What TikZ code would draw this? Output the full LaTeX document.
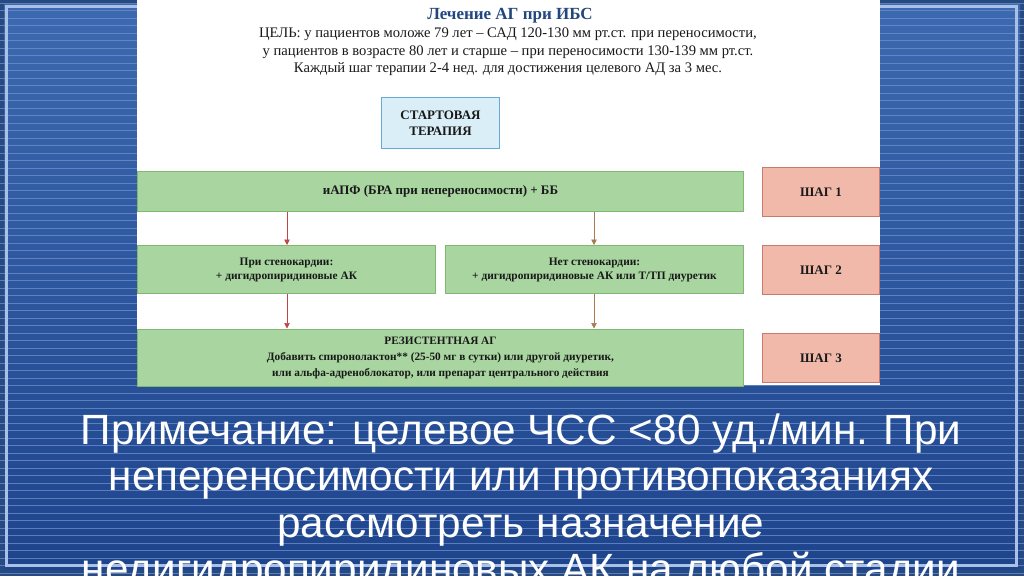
\documentclass[tikz,border=0pt]{standalone}
\usepackage{fontspec}
\setmainfont{Liberation Serif}
\newfontfamily\notefont{Liberation Sans}
\usetikzlibrary{arrows.meta}
\definecolor{bgouter}{RGB}{40,74,130}
\definecolor{bgtop}{RGB}{60,105,175}
\definecolor{bgbot}{RGB}{30,68,140}
\definecolor{bgline}{RGB}{110,145,205}
\definecolor{framecol}{RGB}{170,192,228}
\definecolor{titleblue}{RGB}{35,70,125}
\definecolor{greenfill}{RGB}{168,213,160}
\definecolor{greenedge}{RGB}{128,184,112}
\definecolor{stepfill}{RGB}{240,185,170}
\definecolor{stepedge}{RGB}{200,122,110}
\definecolor{startfill}{RGB}{218,238,248}
\definecolor{startedge}{RGB}{100,170,212}
\definecolor{arrowred}{RGB}{192,70,70}
\definecolor{arrowtan}{RGB}{165,122,85}
\definecolor{txt}{RGB}{25,25,25}
\tikzset{
  greenbox/.style={draw=greenedge, fill=greenfill, line width=1pt, anchor=north west, inner sep=0pt, align=center, text=txt, font=\fontsize{11.4}{14}\selectfont\bfseries},
  stepbox/.style={draw=stepedge, fill=stepfill, line width=1pt, anchor=north west, inner sep=0pt, minimum width=117pt, minimum height=49pt, text=txt, font=\fontsize{13}{15}\selectfont\bfseries},
  startbox/.style={draw=startedge, fill=startfill, line width=1pt, anchor=north west, inner sep=0pt, minimum width=118pt, minimum height=51pt, align=center, text=txt, font=\fontsize{13}{16}\selectfont\bfseries},
  goal/.style={anchor=base, inner sep=0pt, text=txt, font=\fontsize{14.6}{17}\selectfont},
  note/.style={anchor=base, inner sep=0pt, text=white, font=\notefont\fontsize{42.3}{48}\selectfont},
  redarrow/.style={draw=arrowred, line width=0.7pt, -{Triangle[length=5.5pt,width=5.5pt]}},
  tanarrow/.style={draw=arrowtan, line width=0.7pt, -{Triangle[length=5.5pt,width=5.5pt]}},
}
\begin{document}
\begin{tikzpicture}[x=1pt,y=-1pt]
\useasboundingbox (0,0) rectangle (1024,576);
\clip (0,0) rectangle (1024,576);
% background
\fill[bgouter] (0,0) rectangle (1024,576);
\shade[top color=bgtop, bottom color=bgbot] (4,4) rectangle (1020,569);
\foreach \k in {0,...,76} {
  \draw[bgline, line width=0.8pt, opacity=0.75] (0,{3+7.5*\k}) -- (1024,{3+7.5*\k});
}
\draw[framecol, line width=3pt] (6,6) rectangle (1016,565);
% white panel
\fill[white] (137,0) rectangle (880,385);
% title and goal
\node[anchor=base, inner sep=0pt, text=titleblue, font=\fontsize{17}{20}\selectfont\bfseries] (title) at (510,19) {Лечение АГ при ИБС};
\node[goal] (goal1) at (508,37.5) {ЦЕЛЬ: у пациентов моложе 79 лет – САД 120-130 мм рт.ст. при переносимости,};
\node[goal] (goal2) at (508,55) {у пациентов в возрасте 80 лет и старше – при переносимости 130-139 мм рт.ст.};
\node[goal] (goal3) at (508,72.5) {Каждый шаг терапии 2-4 нед. для достижения целевого АД за 3 мес.};
% start box
\node[startbox] (start) at (381,97) {СТАРТОВАЯ\\ТЕРАПИЯ};
% step 1
\node[greenbox, minimum width=606pt, minimum height=40pt, font=\fontsize{13}{15}\selectfont\bfseries] (b1) at (137,171) {иАПФ (БРА при непереносимости) + ББ};
% step 2
\node[greenbox, minimum width=298pt, minimum height=48pt] (b2l) at (137,245) {При стенокардии:\\+ дигидропиридиновые АК};
\node[greenbox, minimum width=298pt, minimum height=48pt] (b2r) at (445,245) {Нет стенокардии:\\+ дигидропиридиновые АК или Т/ТП диуретик};
% step 3
\node[greenbox, minimum width=606pt, minimum height=57pt, font=\fontsize{11.3}{16}\selectfont\bfseries] (b3) at (137,328.5) {РЕЗИСТЕНТНАЯ АГ\\Добавить спиронолактон** (25-50 мг в сутки) или другой диуретик,\\или альфа-адреноблокатор, или препарат центрального действия};
% step labels
\node[stepbox] (s1) at (762,167) {ШАГ 1};
\node[stepbox] (s2) at (762,245) {ШАГ 2};
\node[stepbox] (s3) at (762,333) {ШАГ 3};
% arrows
\draw[redarrow] (b1.south -| 287,0) -- (b2l.north -| 287,0);
\draw[tanarrow] (b1.south -| 594,0) -- (b2r.north -| 594,0);
\draw[redarrow] (b2l.south -| 287,0) -- (b3.north -| 287,0);
\draw[tanarrow] (b2r.south -| 594,0) -- (b3.north -| 594,0);
% note
\node[note] (n1) at (521,444) {Примечание: целевое ЧСС <80 уд./мин. При};
\node[note] (n2) at (521,490.5) {непереносимости или противопоказаниях};
\node[note] (n3) at (521,537) {рассмотреть назначение};
\node[note] (n4) at (521,583.5) {недигидропиридиновых АК на любой стадии};
\end{tikzpicture}
\end{document}
